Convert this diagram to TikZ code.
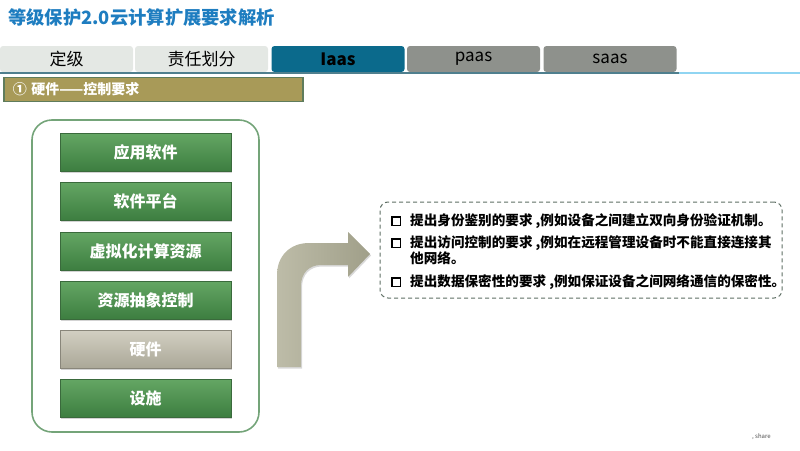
\documentclass[tikz,border=0pt]{standalone}
\usepackage{fontspec}
\setmainfont{Noto Sans CJK SC}
\usetikzlibrary{positioning}
\usetikzlibrary{shadows}
\definecolor{titleBlue}{HTML}{1E7DC0}
\definecolor{tabLight}{HTML}{E4E8E4}
\definecolor{tabDark}{HTML}{0B6A8C}
\definecolor{tabGray}{HTML}{8E918C}
\definecolor{tabLine}{HTML}{4F7F8E}
\definecolor{skyLine}{HTML}{90D5F2}
\definecolor{barOlive}{HTML}{A89A58}
\definecolor{barEdge}{HTML}{5F7C5C}
\definecolor{frameGreen}{HTML}{74A479}
\definecolor{layerTop}{HTML}{64A664}
\definecolor{layerBottom}{HTML}{3D7E40}
\definecolor{layerEdge}{HTML}{3A6A3C}
\definecolor{hwTop}{HTML}{D2CFC2}
\definecolor{hwBottom}{HTML}{ABA898}
\definecolor{arrowLight}{HTML}{BDBCA8}
\definecolor{arrowDark}{HTML}{A09F89}
\definecolor{dashGray}{HTML}{5E6E64}
\tikzset{
  tabBox/.style={rectangle, rounded corners=3pt, minimum width=133pt, minimum height=26pt, inner sep=0pt, font=\fontsize{17}{17}\selectfont},
  layerBox/.style={rectangle, draw=layerEdge, line width=0.6pt, top color=layerTop, bottom color=layerBottom, minimum width=171pt, minimum height=38pt, inner sep=0pt, text=white, font=\fontsize{16}{16}\selectfont\bfseries, drop shadow={opacity=0.35, shadow xshift=1pt, shadow yshift=-1.5pt}},
  reqText/.style={anchor=west, align=left, inner sep=0pt, font=\fontsize{13.6}{14}\selectfont\bfseries},
  reqMark/.style={rectangle, draw=black, line width=1.5pt, minimum size=8.5pt, inner sep=0pt}
}
\begin{document}
\begin{tikzpicture}[x=1pt,y=-1pt]
  \useasboundingbox (0,0) rectangle (800,450);
  \node[anchor=west, inner sep=0pt, text=titleBlue, font=\fontsize{18.3}{18}\selectfont\bfseries] (titleText) at (8,18) {等级保护2.0云计算扩展要求解析};
  \draw[skyLine, line width=2.5pt] (679,73) -- (800,73);
  \node[tabBox, fill=tabLight] (tabDingji) at (66.5,59) {定级};
  \node[tabBox, fill=tabLight] (tabZeren) at (201.5,59) {责任划分};
  \node[tabBox, fill=tabDark, font=\fontsize{17}{17}\selectfont\bfseries] (tabIaas) at (338,59) {Iaas};
  \node[tabBox, fill=tabGray] (tabPaas) at (473.5,59) {paas};
  \node[tabBox, fill=tabGray] (tabSaas) at (610,59) {saas};
  \draw[tabLine, line width=2pt] (0,72.5) -- (679,72.5);
  \node[anchor=west, rectangle, fill=barOlive, draw=barEdge, line width=1.5pt, text width=281pt, inner xsep=9pt, minimum height=24pt, align=left, text=white, font=\fontsize{14}{14}\selectfont\bfseries] (sectionBar) at (3,89.5) {① 硬件——控制要求};
  \node[rectangle, draw=frameGreen, line width=1.6pt, rounded corners=20pt, minimum width=227pt, minimum height=312pt] (stackFrame) at (145.5,276) {};
  \node[layerBox] (layer1) at (145.5,152) {应用软件};
  \node[layerBox] (layer2) at (145.5,201) {软件平台};
  \node[layerBox] (layer3) at (145.5,251) {虚拟化计算资源};
  \node[layerBox] (layer4) at (145.5,300) {资源抽象控制};
  \node[layerBox, draw=hwBottom!80!black, top color=hwTop, bottom color=hwBottom] (layer5) at (145.5,349) {硬件};
  \node[layerBox] (layer6) at (145.5,398) {设施};
  \shade[left color=arrowLight, right color=arrowDark, drop shadow={opacity=0.3, shadow xshift=1pt, shadow yshift=-1.5pt}]
    (277,367) -- (277,275) .. controls (277,256) and (290,243) .. (309,243) -- (348,243) -- (348,232) -- (370,254)
    -- (348,277) -- (348,265) -- (321,265) .. controls (309,265) and (301,273) .. (301,286) -- (301,367) -- cycle;
  \node[rectangle, draw=dashGray, line width=1pt, dash pattern=on 4pt off 3pt, rounded corners=8pt, minimum width=402pt, minimum height=96pt] (reqBox) at (581,250) {};
  \node[reqMark] (mark1) at (396,221) {};
  \node[reqText] (req1) at (410,221) {提出身份鉴别的要求 ,例如设备之间建立双向身份验证机制。};
  \node[reqMark] (mark2) at (396,243) {};
  \node[reqText, anchor=north west] (req2) at (410,235.5) {提出访问控制的要求 ,例如在远程管理设备时不能直接连接其\\他网络。};
  \node[reqMark] (mark3) at (396,282) {};
  \node[reqText] (req3) at (410,282) {提出数据保密性的要求 ,例如保证设备之间网络通信的保密性。};
  \node[anchor=west, inner sep=0pt, text=black!70, font=\fontsize{6}{6}\selectfont] (shareNote) at (752,437) {, share};
\end{tikzpicture}
\end{document}
